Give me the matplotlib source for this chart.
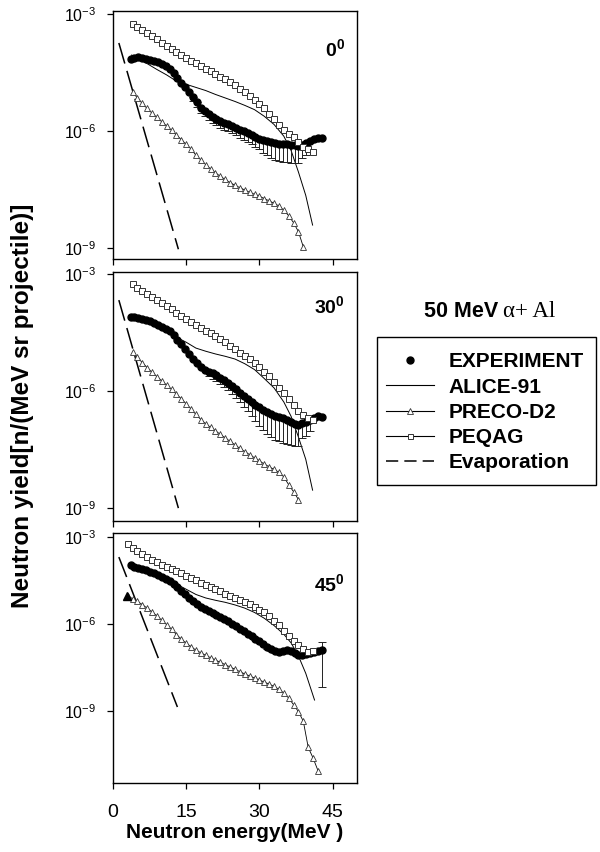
import numpy as np
import matplotlib
matplotlib.use("Agg")
import matplotlib.pyplot as plt
from matplotlib.lines import Line2D
from matplotlib.patches import Rectangle
from matplotlib.font_manager import FontProperties

plt.rcParams['font.family'] = ['Liberation Sans', 'DejaVu Sans']
plt.rcParams['mathtext.fontset'] = 'custom'
plt.rcParams['mathtext.rm'] = 'Liberation Sans'
plt.rcParams['mathtext.bf'] = 'Liberation Sans:bold'

# ---------------- data (log10 of yield, n/(MeV sr projectile)) ----------------
angles = ['0', '30', '45']

exp_energy = [3.6, 4.4, 5.2, 6.0, 6.8, 7.6, 8.4, 9.2, 10.0, 10.8, 11.6, 12.4, 13.2, 14.0,
              14.8, 15.6, 16.4, 17.2, 18.0, 18.8, 19.6, 20.4, 21.2, 22.0, 22.8, 23.6, 24.4,
              25.2, 26.0, 26.8, 27.6, 28.4, 29.2, 30.0, 30.8, 31.6, 32.4, 33.2, 34.0, 34.8,
              35.6, 36.4, 37.2, 38.0, 38.8, 39.6, 40.4, 41.2, 42.0, 42.8]

exp0_log = [-4.16, -4.12, -4.11, -4.13, -4.15, -4.18, -4.21, -4.24, -4.28, -4.34, -4.42, -4.52,
            -4.64, -4.76, -4.88, -5.00, -5.12, -5.26, -5.40, -5.48, -5.56, -5.63, -5.69, -5.75,
            -5.79, -5.83, -5.87, -5.91, -5.96, -6.01, -6.06, -6.10, -6.15, -6.19, -6.23, -6.26,
            -6.29, -6.31, -6.33, -6.34, -6.34, -6.35, -6.36, -6.37, -6.35, -6.31, -6.26, -6.21,
            -6.17, -6.17]
exp0_errdn = [0, 0, 0, 0, 0, 0, 0, 0, 0, 0, 0, 0, 0, 0, 0, 0, 0.12, 0.12, 0.13, 0.14, 0.15, 0.16,
              0.16, 0.17, 0.18, 0.18, 0.19, 0.2, 0.21, 0.22, 0.23, 0.24, 0.25, 0.28, 0.32, 0.36,
              0.4, 0.42, 0.44, 0.45, 0.45, 0.46, 0.46, 0.45, 0.35, 0.3, 0.28, 0, 0, 0]

exp1_log = [-4.11, -4.11, -4.13, -4.15, -4.17, -4.21, -4.25, -4.30, -4.35, -4.41, -4.47, -4.56,
            -4.68, -4.80, -4.93, -5.06, -5.17, -5.28, -5.39, -5.45, -5.50, -5.55, -5.60, -5.66,
            -5.73, -5.80, -5.88, -5.96, -6.04, -6.12, -6.20, -6.27, -6.35, -6.42, -6.49, -6.54,
            -6.59, -6.63, -6.67, -6.70, -6.74, -6.79, -6.84, -6.86, -6.83, -6.79, -6.73, -6.68,
            -6.65, -6.66]
exp1_errdn = [0, 0, 0, 0, 0, 0, 0, 0, 0, 0, 0, 0, 0, 0, 0, 0, 0, 0, 0, 0, 0.12, 0.13, 0.14,
              0.15, 0.17, 0.18, 0.2, 0.22, 0.25, 0.28, 0.32, 0.36, 0.42, 0.48, 0.52, 0.56, 0.6,
              0.62, 0.62, 0.62, 0.62, 0.6, 0.58, 0.55, 0.38, 0.35, 0.3, 0, 0, 0]

exp2_log = [-3.97, -4.02, -4.06, -4.10, -4.14, -4.19, -4.25, -4.31, -4.38, -4.45, -4.52, -4.61,
            -4.72, -4.85, -4.98, -5.10, -5.20, -5.32, -5.42, -5.49, -5.56, -5.63, -5.70, -5.77,
            -5.84, -5.91, -5.99, -6.08, -6.16, -6.24, -6.33, -6.42, -6.51, -6.60, -6.68, -6.79,
            -6.86, -6.93, -6.95, -6.92, -6.90, -6.94, -7.00, -7.05, -7.06, -7.03, -7.00, -6.96,
            -6.92, -6.90]
exp2_errdn = [0] * 35 + [0.08, 0.08, 0.08, 0.08, 0] + [0] * 9 + [1.27]
exp2_errup = [0] * 49 + [0.28]
exp2_extra_energy = [2.9]
exp2_extra_log = [-5.02]

alice_energy = [[3.8, 5, 7, 9, 11, 13, 15, 17, 19, 21, 23, 25, 27, 29, 31, 33, 35, 36.5, 38, 39.5, 40.9],
                [3.8, 5, 7, 9, 11, 13, 15, 17, 19, 21, 23, 25, 27, 29, 31, 33, 35, 36.5, 38, 39.5, 40.9],
                [3.9, 5, 7, 9, 11, 13, 15, 17, 19, 21, 23, 25, 27, 29, 31, 33, 35, 36.5, 38, 39.5, 41.3]]
alice_log = [[-4.05, -4.12, -4.27, -4.42, -4.56, -4.72, -4.80, -4.88, -4.96, -5.06, -5.15, -5.24,
              -5.34, -5.45, -5.62, -5.83, -6.13, -6.50, -7.05, -7.65, -8.41],
             [-4.05, -4.12, -4.25, -4.38, -4.50, -4.62, -4.75, -4.90, -4.98, -5.05, -5.11, -5.18,
              -5.30, -5.45, -5.68, -5.92, -6.28, -6.65, -7.18, -7.75, -8.54],
             [-4.03, -4.10, -4.22, -4.35, -4.48, -4.62, -4.80, -4.98, -5.10, -5.18, -5.25, -5.34,
              -5.45, -5.60, -5.80, -6.05, -6.35, -6.65, -7.10, -7.70, -8.62]]

peqag_energy = [[4, 5, 6, 7, 8, 9, 10, 11, 12, 13, 14, 15, 16, 17, 18, 19, 20, 21, 22, 23, 24, 25, 26,
                 27, 28, 29, 30, 31, 32, 33, 34, 35, 36, 37, 38, 39, 40, 41],
                [4, 5, 6, 7, 8, 9, 10, 11, 12, 13, 14, 15, 16, 17, 18, 19, 20, 21, 22, 23, 24, 25, 26,
                 27, 28, 29, 30, 31, 32, 33, 34, 35, 36, 37, 38, 39, 40, 41],
                [3, 4, 5, 6, 7, 8, 9, 10, 11, 12, 13, 14, 15, 16, 17, 18, 19, 20, 21, 22, 23, 24, 25,
                 26, 27, 28, 29, 30, 31, 32, 33, 34, 35, 36, 37, 38, 39, 40, 41]]
peqag_log = [[-3.25, -3.33, -3.41, -3.49, -3.57, -3.65, -3.73, -3.81, -3.89, -3.97, -4.05, -4.12,
              -4.19, -4.26, -4.33, -4.40, -4.47, -4.53, -4.60, -4.67, -4.75, -4.83, -4.92, -5.01,
              -5.11, -5.21, -5.31, -5.42, -5.55, -5.70, -5.85, -5.98, -6.07, -6.14, -6.28, -6.40,
              -6.45, -6.53],
             [-3.27, -3.35, -3.43, -3.51, -3.59, -3.67, -3.75, -3.83, -3.91, -3.99, -4.07, -4.15,
              -4.23, -4.31, -4.38, -4.45, -4.52, -4.59, -4.67, -4.75, -4.84, -4.93, -5.02, -5.10,
              -5.18, -5.27, -5.38, -5.50, -5.62, -5.76, -5.92, -6.06, -6.20, -6.35, -6.50, -6.62,
              -6.70, -6.75],
             [-3.24, -3.36, -3.48, -3.59, -3.70, -3.79, -3.87, -3.95, -4.03, -4.10, -4.17, -4.25,
              -4.33, -4.41, -4.49, -4.57, -4.64, -4.71, -4.79, -4.87, -4.95, -5.03, -5.10, -5.17,
              -5.24, -5.32, -5.41, -5.50, -5.60, -5.73, -5.88, -6.04, -6.24, -6.42, -6.58, -6.72,
              -6.85, -6.95, -6.92]]

preco_energy = [[4, 5, 6, 7, 8, 9, 10, 11, 12, 13, 14, 15, 16, 17, 18, 19, 20, 21, 22, 23, 24, 25,
                 26, 27, 28, 29, 30, 31, 32, 33, 34, 35, 36, 37, 38, 39],
                [4, 5, 6, 7, 8, 9, 10, 11, 12, 13, 14, 15, 16, 17, 18, 19, 20, 21, 22, 23, 24, 25,
                 26, 27, 28, 29, 30, 31, 32, 33, 34, 35, 36, 37, 38],
                [3, 4, 5, 6, 7, 8, 9, 10, 11, 12, 13, 14, 15, 16, 17, 18, 19, 20, 21, 22, 23, 24, 25,
                 26, 27, 28, 29, 30, 31, 32, 33, 34, 35, 36, 37, 38, 39, 40, 41, 42]]
preco_log = [[-5.00, -5.15, -5.29, -5.42, -5.54, -5.65, -5.76, -5.87, -5.98, -6.10, -6.22, -6.34,
              -6.46, -6.62, -6.74, -6.86, -6.97, -7.07, -7.16, -7.24, -7.32, -7.39, -7.45, -7.51,
              -7.57, -7.62, -7.67, -7.73, -7.79, -7.85, -7.92, -8.03, -8.17, -8.35, -8.58, -8.97],
             [-5.00, -5.14, -5.27, -5.40, -5.52, -5.63, -5.74, -5.85, -5.96, -6.08, -6.20, -6.33,
              -6.46, -6.60, -6.73, -6.84, -6.93, -7.02, -7.11, -7.20, -7.29, -7.38, -7.47, -7.55,
              -7.63, -7.71, -7.79, -7.87, -7.94, -8.01, -8.08, -8.20, -8.40, -8.58, -8.78],
             [-5.03, -5.12, -5.22, -5.33, -5.45, -5.58, -5.72, -5.87, -6.02, -6.18, -6.36, -6.52,
              -6.66, -6.78, -6.90, -6.99, -7.08, -7.16, -7.24, -7.32, -7.40, -7.48, -7.56, -7.64,
              -7.72, -7.79, -7.86, -7.93, -8.00, -8.07, -8.15, -8.25, -8.38, -8.55, -8.78, -9.02,
              -9.35, -10.25, -10.62, -11.05]]

evap_energy = [[1.2, 13.4], [1.2, 13.4], [1.2, 13.2]]
evap_log = [[-3.74, -9.03], [-3.67, -9.00], [-3.69, -8.86]]

ylims_log = [(-9.28, -2.92), (-9.33, -2.95), (-11.48, -2.86)]
xticks = [0, 15, 30, 45]
yticks_log = [-3, -6, -9]
ytick_labels = [r'$\mathregular{10^{-3}}$', r'$\mathregular{10^{-6}}$', r'$\mathregular{10^{-9}}$']

exp_logs = [exp0_log, exp1_log, exp2_log]
exp_errdn = [exp0_errdn, exp1_errdn, exp2_errdn]
exp_errup = [[0] * 50, [0] * 50, exp2_errup]

# ---------------- figure ----------------
W, H = 600, 852
fig = plt.figure(figsize=(W / 100, H / 100), dpi=100)

rects_px = [(113, 11, 357, 259), (113, 272, 357, 521), (113, 533, 357, 783)]
label_pos = [(345, 56), (345, 313), (345, 591)]

for i, (x0, y0, x1, y1) in enumerate(rects_px):
    ax = fig.add_axes([x0 / W, 1 - y1 / H, (x1 - x0) / W, (y1 - y0) / H])
    ax.set_yscale('log')
    ax.set_xlim(0, 50)
    ax.set_ylim(10 ** ylims_log[i][0], 10 ** ylims_log[i][1])

    # evaporation
    ax.plot(evap_energy[i], 10 ** np.array(evap_log[i]), color='k', lw=1.1,
            dashes=(14, 5), zorder=2)
    # ALICE-91
    ax.plot(alice_energy[i], 10 ** np.array(alice_log[i]), color='k', lw=0.7, zorder=2)
    # PRECO-D2
    ax.plot(preco_energy[i], 10 ** np.array(preco_log[i]), color='k', lw=0.6,
            marker='^', ms=4.2, mfc='white', mec='#333333', mew=0.6, zorder=3)
    # experiment error bars
    e = np.array(exp_energy)
    y = 10 ** np.array(exp_logs[i])
    dn = y - 10 ** (np.array(exp_logs[i]) - np.array(exp_errdn[i]))
    up = 10 ** (np.array(exp_logs[i]) + np.array(exp_errup[i])) - y
    m = (np.array(exp_errdn[i]) > 0) | (np.array(exp_errup[i]) > 0)
    ax.errorbar(e[m], y[m], yerr=[dn[m], up[m]], fmt='none', ecolor='#222222',
                elinewidth=0.7, capsize=3, capthick=0.7, zorder=4)
    ax.plot(e, y, ls='none', marker='o', ms=5.0, color='k', zorder=5)
    if i == 2:
        ax.plot(exp2_extra_energy, 10 ** np.array(exp2_extra_log), ls='none', marker='^',
                ms=5.5, color='k', zorder=5)
    # PEQAG
    ax.plot(peqag_energy[i], 10 ** np.array(peqag_log[i]), color='k', lw=0.6,
            marker='s', ms=3.8, mfc='white', mec='#333333', mew=0.7, zorder=6)

    ax.set_xticks(xticks)
    ax.set_yticks([10.0 ** v for v in yticks_log])
    ax.yaxis.set_minor_locator(matplotlib.ticker.NullLocator())
    ax.set_yticklabels(ytick_labels)
    ax.tick_params(axis='both', direction='out', length=4, width=0.9, color='k')
    ax.tick_params(axis='y', labelsize=11.5, pad=8)
    ax.tick_params(axis='x', labelsize=14, pad=11)
    if i < 2:
        ax.set_xticklabels([])
    for s in ax.spines.values():
        s.set_linewidth(1.0)
        s.set_color('k')

    lx, ly = label_pos[i]
    fig.text(lx / W, 1 - ly / H, r'$\mathbf{%s^{0}}$' % angles[i], ha='right', va='baseline',
             fontsize=14)

fig.text(235 / W, 1 - 838 / H, 'Neutron energy(MeV )', ha='center', va='baseline',
         fontsize=15, fontweight='bold')
fig.text(23 / W, 1 - 406 / H, 'Neutron yield[n/(MeV sr projectile)]', ha='center',
         va='center', rotation=90, fontsize=17.5, fontweight='bold')

# title
fig.text(498 / W, 1 - 317 / H, '50 MeV', ha='right', va='baseline', fontsize=15.5,
         fontweight='bold')
fig.text(503 / W, 1 - 317 / H, 'α+ Al', ha='left', va='baseline', fontsize=16.5,
         family=['Liberation Serif', 'DejaVu Serif'])

# legend (frame drawn separately)
handles = [
    Line2D([], [], ls='none', marker='o', ms=5, color='k'),
    Line2D([], [], color='k', lw=0.8),
    Line2D([], [], color='k', lw=0.8, marker='^', ms=4, mfc='white', mec='#333333', mew=0.6),
    Line2D([], [], color='k', lw=0.8, marker='s', ms=3.6, mfc='white', mec='#333333', mew=0.7),
    Line2D([], [], color='k', lw=1.1, dashes=(8, 4)),
]
labels = ['EXPERIMENT', 'ALICE-91', 'PRECO-D2', 'PEQAG', 'Evaporation']
leg = fig.legend(handles, labels, loc='upper left',
                 bbox_to_anchor=(377 / W, 1 - 343 / H), bbox_transform=fig.transFigure,
                 prop=FontProperties(family='Liberation Sans', weight='bold', size=15),
                 frameon=False, handlelength=2.3,
                 handletextpad=0.7, labelspacing=0.3, borderpad=0.45, borderaxespad=0)
fig.patches.append(Rectangle((377 / W, 1 - 485 / H), (596 - 377) / W, (485 - 337) / H,
                             transform=fig.transFigure, fill=False, edgecolor='k', lw=1.0))

fig.savefig('out.png', dpi=100)
